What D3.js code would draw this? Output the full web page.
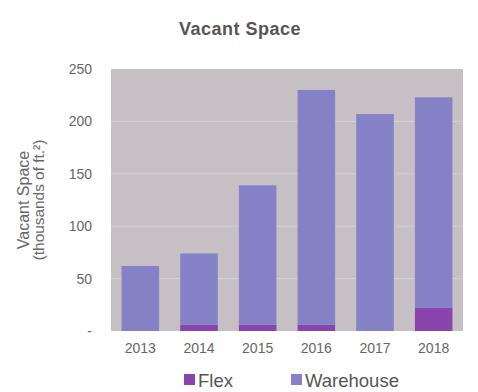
<!DOCTYPE html>
<html>
<head>
<meta charset="utf-8">
<script src="https://cdn.jsdelivr.net/npm/d3@7/dist/d3.min.js"></script>
<style>
  body { margin: 0; background: #fff; }
  svg { display: block; font-family: "Liberation Sans", Arial, sans-serif; }
</style>
</head>
<body>
<svg id="chart" width="478" height="392"></svg>
<script>
// Vacant space by year, thousands of square feet
const years = ["2013", "2014", "2015", "2016", "2017", "2018"];
const flex = [0, 6, 6, 6, 0, 22];
const warehouse = [62, 68, 133, 224, 207, 201];
const yTicks = [0, 50, 100, 150, 200, 250];
const seriesNames = ["Flex", "Warehouse"];
const seriesColors = ["#8a44ad", "#8581c6"];

const svg = d3.select("#chart");
const margin = { left: 111, right: 15, top: 69, bottom: 61 };
const W = 478, H = 392;

const x = d3.scaleBand().domain(years)
  .range([margin.left, W - margin.right])
  .paddingInner(0.36).paddingOuter(0.18);
const y = d3.scaleLinear().domain([0, 250]).range([H - margin.bottom, margin.top]);

// plot background
svg.append("rect")
  .attr("x", margin.left).attr("y", margin.top)
  .attr("width", W - margin.right - margin.left)
  .attr("height", y(0) - margin.top)
  .attr("fill", "#c6c0c4");

// gridlines
svg.append("g").selectAll("line").data(yTicks.filter(d => d > 0 && d < 250)).join("line")
  .attr("x1", margin.left).attr("x2", W - margin.right)
  .attr("y1", d => y(d)).attr("y2", d => y(d))
  .attr("stroke", "#d7d1d4").attr("stroke-width", 1);

// stacked bars
const rows = years.map((yr, i) => ({ year: yr, Flex: flex[i], Warehouse: warehouse[i] }));
const stack = d3.stack().keys(seriesNames)(rows);
svg.append("g").selectAll("g").data(stack).join("g")
  .attr("fill", (d, i) => seriesColors[i])
  .selectAll("rect").data(d => d).join("rect")
  .attr("x", d => x(d.data.year))
  .attr("width", x.bandwidth())
  .attr("y", d => y(d[1]))
  .attr("height", d => y(d[0]) - y(d[1]));

// y axis
const yAxis = svg.append("g")
  .attr("transform", `translate(${margin.left - 19},0)`)
  .call(d3.axisLeft(y).tickValues(yTicks).tickSize(0).tickPadding(0)
    .tickFormat(d => d === 0 ? "-" : d));
yAxis.select(".domain").remove();
yAxis.selectAll("text").attr("fill", "#666").style("font-size", "14px");

// x axis
const xAxis = svg.append("g")
  .attr("transform", `translate(0,${y(0)})`)
  .call(d3.axisBottom(x).tickSize(0).tickPadding(12));
xAxis.select(".domain").remove();
xAxis.selectAll("text").attr("fill", "#666").style("font-size", "14px");

// title
svg.append("text")
  .attr("x", 240).attr("y", 35)
  .attr("text-anchor", "middle")
  .attr("fill", "#555")
  .style("font-size", "18px").style("font-weight", "bold")
  .style("letter-spacing", "0.5px")
  .text("Vacant Space");

// y axis title
const yt = svg.append("text")
  .attr("transform", "translate(0,200) rotate(-90)")
  .attr("text-anchor", "middle")
  .attr("fill", "#666")
  .style("font-size", "16px");
yt.append("tspan").attr("x", 0).attr("y", 29).text("Vacant Space");
yt.append("tspan").attr("x", 0).attr("y", 44).style("font-size", "15.4px").text("(thousands of ft.²)");

// legend
const legendX = [184, 291];
const lg = svg.append("g").selectAll("g").data(seriesNames).join("g")
  .attr("transform", (d, i) => `translate(${legendX[i]},374)`);
lg.append("rect").attr("width", 11).attr("height", 11)
  .attr("fill", (d, i) => seriesColors[i]);
lg.append("text").attr("x", 14).attr("y", 13)
  .attr("fill", "#555").style("font-size", "18.5px")
  .text(d => d);
</script>
</body>
</html>
